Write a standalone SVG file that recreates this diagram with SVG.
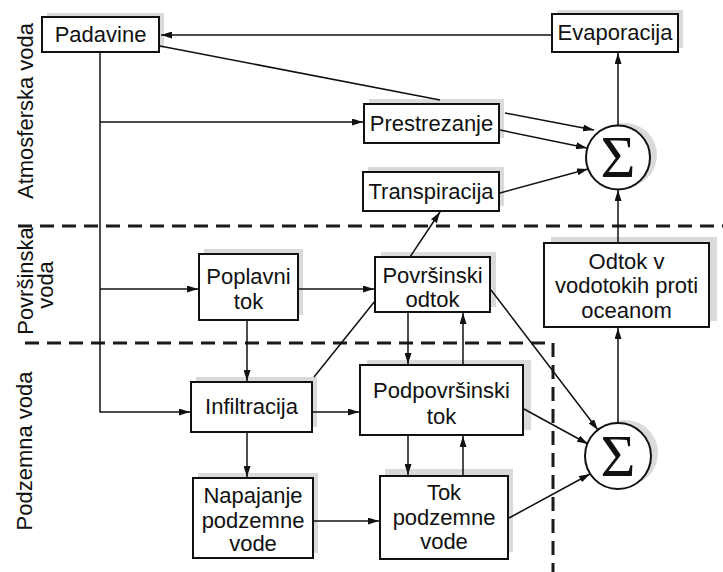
<svg xmlns="http://www.w3.org/2000/svg" width="723" height="572" viewBox="0 0 723 572">
<defs>
<style>
.sh{fill:#dadada}
.box{fill:#fff;stroke:#111;stroke-width:2}
.t{font-family:"Liberation Sans",Arial,sans-serif;font-size:22px;text-anchor:middle;fill:#111}
.lab{font-family:"Liberation Sans",Arial,sans-serif;font-size:22px;text-anchor:middle;fill:#111}
.sig{font-family:"Liberation Serif","Times New Roman",serif;font-size:60px;text-anchor:middle;fill:#111}
.e{stroke:#111;stroke-width:1.5;fill:none}
.ea{stroke:#111;stroke-width:1.5;fill:none;marker-end:url(#arr)}
.dash{stroke:#1a1a1a;stroke-width:3;fill:none;stroke-dasharray:14 8}
</style>
<marker id="arr" markerWidth="11" markerHeight="7" refX="11" refY="3.5" orient="auto" markerUnits="userSpaceOnUse">
<path d="M0,0 L11,3.5 L0,7 Z" fill="#111"/>
</marker>
</defs>
<rect width="723" height="572" fill="#fff"/>

<g id="labels">
<text class="lab" transform="translate(33,111) rotate(-90)">Atmosferska voda</text>
<text class="lab" transform="translate(33,281) rotate(-90)">Površinska</text>
<text class="lab" transform="translate(53,285) rotate(-90)">voda</text>
<text class="lab" transform="translate(32,451) rotate(-90)">Podzemna voda</text>
</g>

<g id="zones">
<path class="dash" d="M18,226 L723,226"/>
<path class="dash" d="M25,343 L553,343 L553,572"/>
</g>

<g id="padavine">
<rect class="sh" x="47" y="13" width="117" height="35"/>
<rect class="box" x="42" y="17" width="117" height="35"/>
<text class="t" x="100.5" y="42">Padavine</text>
</g>
<g id="evaporacija">
<rect class="sh" x="557" y="10" width="126" height="38"/>
<rect class="box" x="552" y="14" width="126" height="38"/>
<text class="t" x="615" y="40">Evaporacija</text>
</g>
<g id="prestrezanje">
<rect class="sh" x="369" y="99" width="135" height="39"/>
<rect class="box" x="364" y="104" width="135" height="39"/>
<text class="t" x="431.5" y="131">Prestrezanje</text>
</g>
<g id="transpiracija">
<rect class="sh" x="368" y="167" width="136" height="39"/>
<rect class="box" x="363" y="172" width="136" height="39"/>
<text class="t" x="431" y="199">Transpiracija</text>
</g>
<g id="sum1">
<circle class="sh" cx="625" cy="155" r="32"/>
<circle class="box" cx="618" cy="157.5" r="32" stroke-width="1.8"/>
<text class="sig" x="618" y="177">Σ</text>
</g>
<g id="poplavni">
<rect class="sh" x="204" y="249" width="99" height="66"/>
<rect class="box" x="199" y="254" width="99" height="66"/>
<text class="t" x="248.5" y="284">Poplavni</text>
<text class="t" x="248.5" y="309">tok</text>
</g>
<g id="povrsinski">
<rect class="sh" x="381" y="252" width="115" height="55"/>
<rect class="box" x="375" y="257" width="115" height="55"/>
<text class="t" x="432.5" y="283">Površinski</text>
<text class="t" x="432.5" y="307">odtok</text>
</g>
<g id="odtok">
<rect class="sh" x="551" y="237" width="166" height="84"/>
<rect class="box" x="544" y="243" width="165" height="84"/>
<text class="t" x="626.5" y="269">Odtok v</text>
<text class="t" x="626.5" y="293">vodotokih proti</text>
<text class="t" x="626.5" y="318">oceanom</text>
</g>
<g id="infiltracija">
<rect class="sh" x="196" y="377" width="121" height="50"/>
<rect class="box" x="191" y="382" width="121" height="50"/>
<text class="t" x="251.5" y="414">Infiltracija</text>
</g>
<g id="podpovrsinski">
<rect class="sh" x="367" y="360" width="164" height="70"/>
<rect class="box" x="360" y="365" width="163" height="70"/>
<text class="t" x="441.5" y="398">Podpovršinski</text>
<text class="t" x="441.5" y="424">tok</text>
</g>
<g id="napajanje">
<rect class="sh" x="198" y="473" width="120" height="80"/>
<rect class="box" x="193" y="478" width="120" height="80"/>
<text class="t" x="253" y="503">Napajanje</text>
<text class="t" x="253" y="528">podzemne</text>
<text class="t" x="253" y="551">vode</text>
</g>
<g id="tok">
<rect class="sh" x="385" y="469" width="128" height="83"/>
<rect class="box" x="380" y="476" width="128" height="83"/>
<text class="t" x="444" y="500">Tok</text>
<text class="t" x="444" y="525">podzemne</text>
<text class="t" x="444" y="549">vode</text>
</g>
<g id="sum2">
<circle class="sh" cx="625" cy="453" r="33"/>
<circle class="box" cx="618" cy="456" r="33" stroke-width="1.8"/>
<text class="sig" x="618" y="476">Σ</text>
</g>

<g id="connectors">
<path class="ea" d="M552,35 L161,35"/>
<path class="e" d="M160,46 L440,100"/>
<path class="ea" d="M505,113 L594,130"/>
<path class="ea" d="M100,52 L100,412 L190,412"/>
<path class="ea" d="M100,122 L363,122"/>
<path class="ea" d="M100,289 L198,289"/>
<path class="ea" d="M500,130 L587,148"/>
<path class="ea" d="M500,193 L588,169"/>
<path class="ea" d="M618,125 L618,53"/>
<path class="ea" d="M618,243 L618,190"/>
<path class="ea" d="M298,289 L374,289"/>
<path class="ea" d="M410,257 L440,212"/>
<path class="e" d="M314,377 L375,301"/>
<path class="ea" d="M408,312 L408,364"/>
<path class="ea" d="M463,365 L463,313"/>
<path class="ea" d="M491,290 L598,430"/>
<path class="ea" d="M247,320 L247,381"/>
<path class="ea" d="M312,412 L359,412"/>
<path class="ea" d="M247,432 L247,477"/>
<path class="ea" d="M313,521 L379,521"/>
<path class="ea" d="M408,435 L408,475"/>
<path class="ea" d="M463,476 L463,436"/>
<path class="ea" d="M524,409 L588,444"/>
<path class="ea" d="M509,518 L590,474"/>
<path class="ea" d="M618,423 L618,328"/>
</g>
</svg>
